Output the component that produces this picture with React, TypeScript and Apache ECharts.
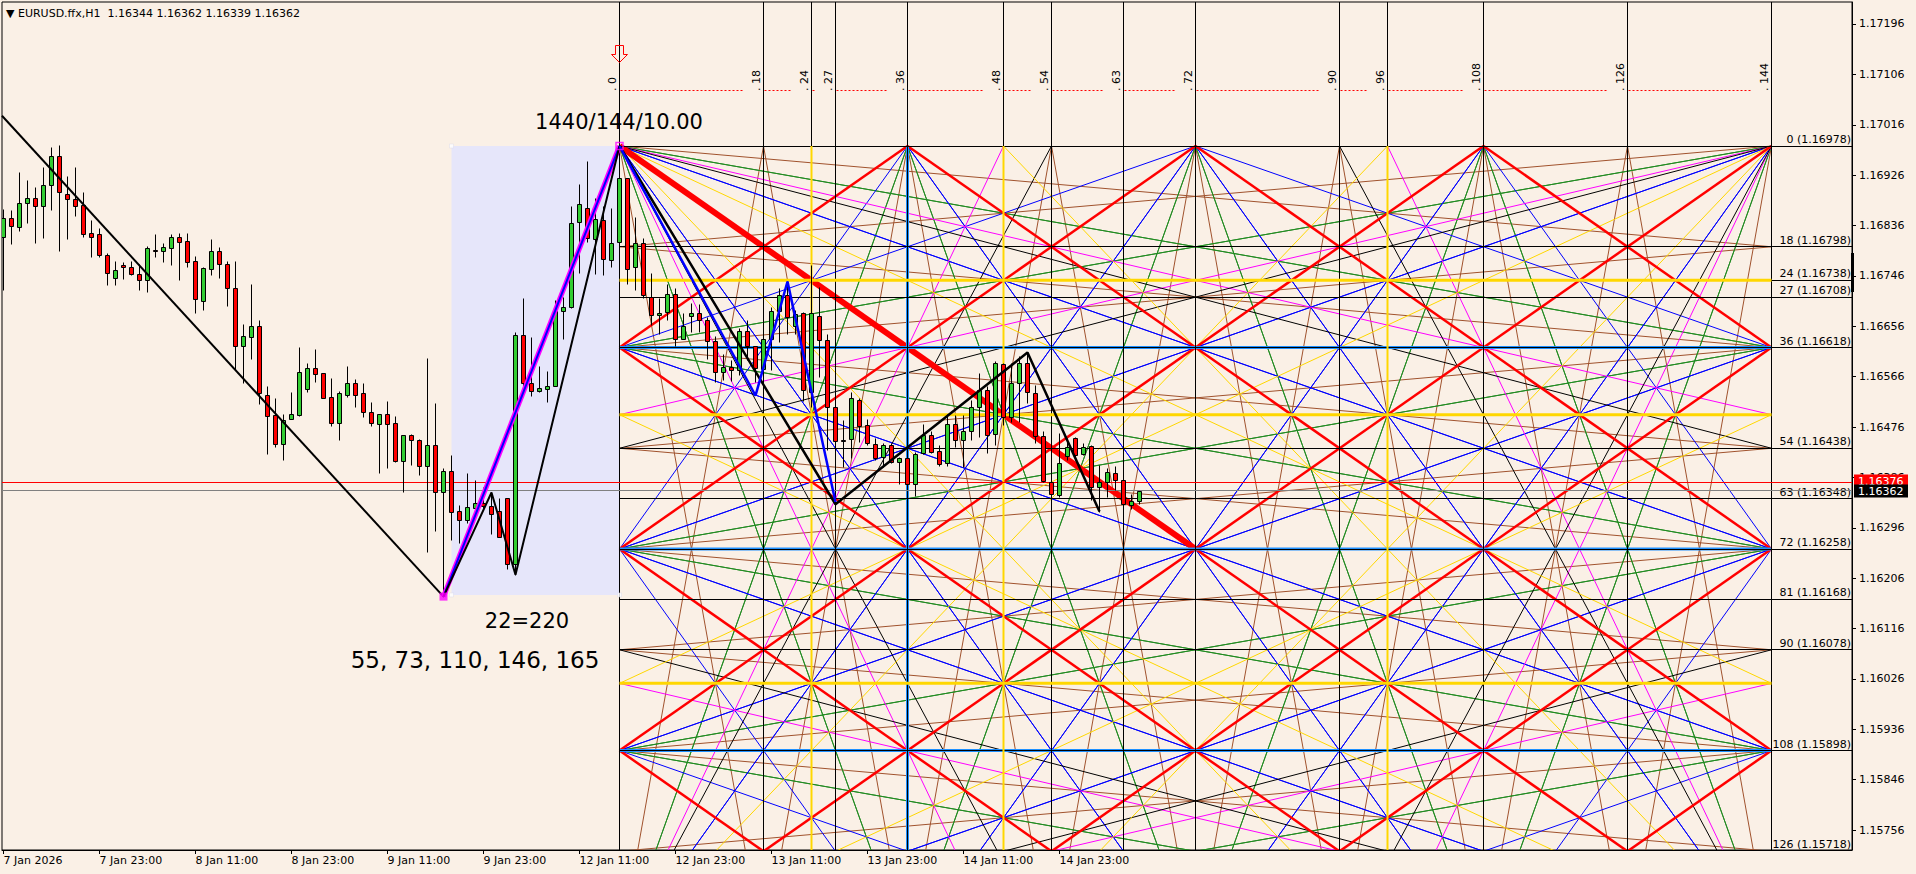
import React, { useEffect, useRef } from 'react';
import * as echarts from 'echarts';

// ---------- candle data (EURUSD H1), bar index 0 = 7 Jan 11:00 ----------
const opens = [1.16815,1.16849,1.16834,1.16876,1.16885,1.16870,1.16908,1.16960,1.16892,1.16884,1.16872,1.16822,1.16820,1.16784,1.16743,1.16765,1.16762,1.16749,1.16739,1.16792,1.16791,1.16795,1.16816,1.16808,1.16772,1.16702,1.16758,1.16790,1.16767,1.16724,1.16620,1.16637,1.16656,1.16534,1.16497,1.16445,1.16491,1.16497,1.16544,1.16581,1.16572,1.16530,1.16484,1.16534,1.16554,1.16536,1.16502,1.16481,1.16500,1.16484,1.16416,1.16462,1.16453,1.16407,1.16444,1.16359,1.16397,1.16326,1.16309,1.16332,1.16341,1.16334,1.16326,1.16349,1.16231,1.16640,1.16554,1.16540,1.16544,1.16549,1.16684,1.16690,1.16842,1.16867,1.16811,1.16846,1.16774,1.16806,1.16920,1.16761,1.16804,1.16709,1.16677,1.16681,1.16713,1.16634,1.16674,1.16679,1.16668,1.16629,1.16575,1.16583,1.16577,1.16647,1.16620,1.16579,1.16633,1.16683,1.16712,1.16656,1.16679,1.16538,1.16675,1.16631,1.16512,1.16453,1.16454,1.16525,1.16480,1.16446,1.16423,1.16444,1.16413,1.16421,1.16375,1.16429,1.16462,1.16433,1.16411,1.16482,1.16453,1.16468,1.16511,1.16543,1.16463,1.16588,1.16493,1.16554,1.16591,1.16537,1.16460,1.16378,1.16354,1.16425,1.16457,1.16428,1.16442,1.16368,1.16377,1.16393,1.16381,1.16337,1.16344];
const highs = [1.16865,1.16864,1.16932,1.16917,1.16904,1.16940,1.16976,1.16979,1.16924,1.16941,1.16895,1.16846,1.16831,1.16787,1.16773,1.16771,1.16773,1.16768,1.16799,1.16820,1.16804,1.16820,1.16822,1.16822,1.16782,1.16762,1.16812,1.16798,1.16772,1.16773,1.16660,1.16731,1.16668,1.16549,1.16527,1.16500,1.16539,1.16619,1.16590,1.16615,1.16572,1.16564,1.16540,1.16585,1.16562,1.16554,1.16520,1.16500,1.16522,1.16496,1.16462,1.16463,1.16454,1.16599,1.16519,1.16402,1.16426,1.16337,1.16393,1.16381,1.16369,1.16359,1.16349,1.16349,1.16645,1.16706,1.16637,1.16585,1.16576,1.16703,1.16709,1.16871,1.16910,1.16951,1.16885,1.16870,1.16867,1.16978,1.16920,1.16851,1.16813,1.16751,1.16707,1.16731,1.16724,1.16680,1.16697,1.16695,1.16673,1.16639,1.16606,1.16596,1.16652,1.16668,1.16621,1.16643,1.16691,1.16724,1.16736,1.16685,1.16682,1.16765,1.16727,1.16642,1.16518,1.16488,1.16539,1.16527,1.16491,1.16456,1.16447,1.16448,1.16423,1.16429,1.16432,1.16481,1.16468,1.16443,1.16499,1.16497,1.16497,1.16524,1.16572,1.16549,1.16594,1.16591,1.16591,1.16602,1.16609,1.16551,1.16468,1.16378,1.16466,1.16456,1.16458,1.16447,1.16444,1.16409,1.16402,1.16407,1.16384,1.16356,1.16362];
const lows = [1.16721,1.16803,1.16827,1.16841,1.16805,1.16814,1.16863,1.16791,1.16812,1.16853,1.16816,1.16779,1.16780,1.16729,1.16729,1.16741,1.16748,1.16721,1.16718,1.16780,1.16771,1.16766,1.16739,1.16762,1.16680,1.16685,1.16748,1.16742,1.16692,1.16578,1.16554,1.16598,1.16517,1.16428,1.16441,1.16417,1.16490,1.16496,1.16539,1.16556,1.16527,1.16477,1.16452,1.16530,1.16512,1.16493,1.16477,1.16394,1.16403,1.16414,1.16360,1.16408,1.16391,1.16253,1.16290,1.16173,1.16274,1.16268,1.16304,1.16328,1.16331,1.16285,1.16279,1.16223,1.16212,1.16548,1.16532,1.16539,1.16521,1.16549,1.16634,1.16688,1.16752,1.16807,1.16749,1.16748,1.16762,1.16801,1.16731,1.16720,1.16706,1.16658,1.16643,1.16668,1.16621,1.16633,1.16645,1.16645,1.16597,1.16556,1.16560,1.16559,1.16569,1.16596,1.16557,1.16569,1.16577,1.16628,1.16643,1.16643,1.16523,1.16512,1.16566,1.16435,1.16411,1.16405,1.16420,1.16450,1.16444,1.16417,1.16405,1.16411,1.16375,1.16372,1.16353,1.16428,1.16429,1.16407,1.16407,1.16441,1.16405,1.16453,1.16459,1.16430,1.16443,1.16479,1.16485,1.16485,1.16518,1.16447,1.16378,1.16351,1.16351,1.16417,1.16417,1.16426,1.16345,1.16325,1.16351,1.16363,1.16337,1.16329,1.16339];
const closes = [1.16849,1.16836,1.16876,1.16885,1.16870,1.16908,1.16960,1.16895,1.16884,1.16870,1.16821,1.16816,1.16783,1.16752,1.16756,1.16761,1.16750,1.16738,1.16795,1.16791,1.16797,1.16815,1.16807,1.16770,1.16705,1.16760,1.16791,1.16767,1.16724,1.16620,1.16638,1.16656,1.16537,1.16496,1.16446,1.16488,1.16499,1.16574,1.16581,1.16571,1.16528,1.16484,1.16536,1.16554,1.16534,1.16503,1.16483,1.16500,1.16481,1.16416,1.16462,1.16452,1.16407,1.16444,1.16359,1.16397,1.16325,1.16309,1.16333,1.16340,1.16335,1.16320,1.16280,1.16231,1.16640,1.16555,1.16540,1.16545,1.16550,1.16683,1.16690,1.16840,1.16874,1.16813,1.16847,1.16777,1.16804,1.16920,1.16759,1.16804,1.16711,1.16677,1.16680,1.16713,1.16634,1.16657,1.16679,1.16667,1.16629,1.16575,1.16584,1.16577,1.16648,1.16620,1.16581,1.16634,1.16683,1.16712,1.16673,1.16678,1.16543,1.16679,1.16631,1.16511,1.16451,1.16451,1.16527,1.16478,1.16447,1.16420,1.16444,1.16414,1.16421,1.16374,1.16428,1.16462,1.16432,1.16410,1.16482,1.16453,1.16468,1.16511,1.16542,1.16462,1.16590,1.16493,1.16554,1.16591,1.16538,1.16460,1.16380,1.16356,1.16412,1.16441,1.16426,1.16441,1.16368,1.16378,1.16395,1.16381,1.16338,1.16344,1.16362];

// ---------- axes ----------
const timeLabelBars = [0, 12, 24, 36, 48, 60, 72, 84, 96, 108, 120, 132];
const timeLabels = ['7 Jan 2026', '7 Jan 23:00', '8 Jan 11:00', '8 Jan 23:00', '9 Jan 11:00', '9 Jan 23:00', '12 Jan 11:00', '12 Jan 23:00', '13 Jan 11:00', '13 Jan 23:00', '14 Jan 11:00', '14 Jan 23:00'];
const priceTicks = [1.15756, 1.15846, 1.15936, 1.16026, 1.16116, 1.16206, 1.16296, 1.16386, 1.16476, 1.16566, 1.16656, 1.16746, 1.16836, 1.16926, 1.17016, 1.17106, 1.17196];
const X_MIN = -0.1875;
const X_MAX = 231.0625;
const Y_MIN = 1.157203;
const Y_MAX = 1.172353;

// ---------- current price lines ----------
const askPrice = 1.16376;
const bidPrice = 1.16362;

// ---------- Gann square (1440/144/10.00) ----------
const GANN_BAR = 77;          // bar of the swing high
const GANN_TOP = 1.16978;     // price of the swing high
const GANN_STEP = 0.0001;     // price per level
const GANN_SIZE = 144;
const gannTimeDivs = [0, 18, 24, 27, 36, 48, 54, 63, 72, 90, 96, 108, 126, 144];
const gannPriceDivs = [0, 18, 24, 27, 36, 54, 63, 72, 81, 90, 108, 126];
const goldDivs = [24, 48, 96];
const blueLevelDivs = [36, 72, 108];
const blueTimeDivs = [36];
const nodeDivs = [0, 36, 72, 108, 144];

// swing annotations [bar, price]
const swingLow = [55, 1.16173];
const trendLine = [[-0.19, 1.17032], [55, 1.16173]];
const zigzagUp = [[55, 1.16173], [61, 1.16359], [64, 1.16212], [77, 1.16978]];
const zigzagDown = [[77, 1.16978], [104, 1.16338], [128, 1.16609], [137, 1.16325]];
const blueZigzag = [[77, 1.16978], [94, 1.16532], [98, 1.16736], [104, 1.16342]];
const impulseLine = [[55, 1.16173], [77, 1.16978]];
const boxArea = [[56, 1.16978], [77, 1.16176]];

const BROWN = '#A0522D';
const GREENL = '#228B22';
const MAGENTA = '#FF00FF';
const BLUE = '#0000FF';
const YELLOW = '#FFD700';
const RED = '#FF0000';
const FONT = 'DejaVu Sans';

const gk = (u: number) => GANN_BAR + u;
const gp = (v: number) => GANN_TOP - GANN_STEP * v;

function ray(u0: number, v0: number, du: number, dv: number): number[] | null {
  const S = GANN_SIZE;
  let t = Infinity;
  if (du > 0) t = Math.min(t, (S - u0) / du);
  else if (du < 0) t = Math.min(t, u0 / -du);
  if (dv > 0) t = Math.min(t, (S - v0) / dv);
  else if (dv < 0) t = Math.min(t, v0 / -dv);
  if (!(t > 1e-9) || !isFinite(t)) return null;
  return [gk(u0), gp(v0), gk(u0 + du * t), gp(v0 + dv * t)];
}

function buildFans() {
  const groups: Record<string, number[][]> = {};
  const add = (c: string, s: number[] | null) => { if (s) (groups[c] = groups[c] || []).push(s); };
  const shallow = [{ r: 1 / 8, c: BROWN }, { r: 1 / 4, c: GREENL }, { r: 1 / 2, c: BLUE }];
  const steep = [{ r: 8, c: BROWN }, { r: 4, c: GREENL }, { r: 2, c: BLUE }];
  const corner = [{ r: 1 / 3, c: MAGENTA }, { r: 3, c: MAGENTA }, { r: 3 / 8, c: '#000000' }, { r: 8 / 3, c: '#000000' }, { r: 2 / 3, c: YELLOW }, { r: 3 / 2, c: YELLOW }];
  for (const v0 of nodeDivs) {
    for (const side of [0, GANN_SIZE]) {
      const du = side === 0 ? 1 : -1;
      for (const f of shallow) for (const sg of [1, -1]) add(f.c, ray(side, v0, du, sg * f.r));
    }
  }
  for (const u0 of nodeDivs) {
    for (const edge of [0, GANN_SIZE]) {
      const dv = edge === 0 ? 1 : -1;
      for (const f of steep) for (const sg of [1, -1]) add(f.c, ray(u0, edge, sg / f.r, dv));
    }
  }
  for (const cu of [0, GANN_SIZE]) for (const cv of [0, GANN_SIZE]) {
    const du = cu === 0 ? 1 : -1;
    const dv = cv === 0 ? 1 : -1;
    for (const f of corner) add(f.c, ray(cu, cv, du, dv * f.r));
  }
  return groups;
}

function buildLattice() {
  const segs: number[][] = [];
  const S = GANN_SIZE;
  for (let c = -108; c <= 108; c += 36) {
    const u1 = Math.max(0, -c), u2 = Math.min(S, S - c);
    if (u2 > u1) segs.push([gk(u1), gp(u1 + c), gk(u2), gp(u2 + c)]);
  }
  for (let c = 36; c <= 252; c += 36) {
    const u1 = Math.max(0, c - S), u2 = Math.min(S, c);
    if (u2 > u1) segs.push([gk(u1), gp(c - u1), gk(u2), gp(c - u2)]);
  }
  return segs;
}

function segSeries(id: string, segs: number[][], color: string, width: number, z: number, dash?: number[]) {
  return {
    type: 'custom', id, z, clip: true, silent: true,
    data: segs,
    renderItem: (params: any, api: any) => {
      const a = api.coord([api.value(0), api.value(1)]);
      const b = api.coord([api.value(2), api.value(3)]);
      let x1 = a[0], y1 = a[1], x2 = b[0], y2 = b[1];
      if (width === 1) {
        if (Math.abs(y1 - y2) < 0.01) { y1 = y2 = Math.round(y1 - 0.5) + 0.5; }
        if (Math.abs(x1 - x2) < 0.01) { x1 = x2 = Math.round(x1 - 0.5) + 0.5; }
      }
      return { type: 'line', shape: { x1, y1, x2, y2 }, style: { stroke: color, lineWidth: width, lineDash: dash || null, fill: null } };
    },
  };
}

function buildOption() {
  const candleData = opens.map((o, i) => [i, o, highs[i], lows[i], closes[i]]);
  const fans = buildFans();
  const fanSeries = Object.keys(fans).map((c, i) => segSeries('fan' + i, fans[c], c, 1, 3));

  const vLines = gannTimeDivs.map((u) => [gk(u), Y_MAX, gk(u), Y_MIN]);
  const hLines = gannPriceDivs.map((v) => [gk(0), gp(v), X_MAX, gp(v)]);
  const goldH = goldDivs.map((v) => [gk(0), gp(v), gk(GANN_SIZE), gp(v)]);
  const goldV = goldDivs.map((u) => [gk(u), gp(0), gk(u), Y_MIN]);
  const blueH = blueLevelDivs.map((v) => [gk(0), gp(v), gk(GANN_SIZE), gp(v)]);
  const blueV = blueTimeDivs.map((u) => [gk(u), gp(0), gk(u), Y_MIN]);
  const dotted = gannTimeDivs.slice(0, -1).map((u, i) => [gk(u), gk(gannTimeDivs[i + 1])]);

  const txt = (extra: any) => ({ fill: '#000', fontSize: 11, fontFamily: FONT, ...extra });

  return {
    animation: false,
    backgroundColor: '#FAF0E6',
    textStyle: { fontFamily: FONT },
    grid: { left: 2, top: 2, width: 1850, height: 848, show: true, borderColor: '#000', borderWidth: 1, backgroundColor: 'transparent' },
    xAxis: {
      type: 'value', min: X_MIN, max: X_MAX,
      axisLine: { show: true, onZero: false, lineStyle: { color: '#000', width: 1 } },
      axisTick: { show: true, customValues: timeLabelBars, length: 4, lineStyle: { color: '#000' } },
      axisLabel: {
        show: true, customValues: timeLabelBars, align: 'left', margin: 5,
        fontFamily: FONT, fontSize: 11, color: '#000',
        formatter: (v: number) => { const i = timeLabelBars.indexOf(Math.round(v)); return i >= 0 ? timeLabels[i] : ''; },
      },
      splitLine: { show: false },
    },
    yAxis: {
      type: 'value', position: 'right', min: Y_MIN, max: Y_MAX, scale: true,
      axisLine: { show: true, onZero: false, lineStyle: { color: '#000', width: 1 } },
      axisTick: { show: true, customValues: priceTicks, length: 4, lineStyle: { color: '#000' } },
      axisLabel: { show: true, customValues: priceTicks, margin: 7, fontFamily: FONT, fontSize: 11, color: '#000', formatter: (v: number) => v.toFixed(5) },
      splitLine: { show: false },
    },
    series: [
      {
        type: 'custom', id: 'box', z: 1, clip: true, silent: true,
        data: [[boxArea[0][0], boxArea[0][1], boxArea[1][0], boxArea[1][1]]],
        renderItem: (p: any, api: any) => {
          const a = api.coord([api.value(0), api.value(1)]);
          const b = api.coord([api.value(2), api.value(3)]);
          return { type: 'rect', shape: { x: a[0], y: a[1], width: b[0] - a[0], height: b[1] - a[1] }, style: { fill: '#E6E6FA' } };
        },
      },
      ...fanSeries,
      segSeries('lattice', buildLattice(), RED, 2.5, 4),
      segSeries('gannDiag', [[gk(0), gp(0), gk(72), gp(72)]], RED, 6, 4),
      segSeries('blueH', blueH, '#1E90FF', 3, 5),
      segSeries('blueV', blueV, '#1E90FF', 3, 5),
      segSeries('vlines', vLines, '#000', 1, 6),
      segSeries('hlines', hLines, '#000', 1, 6),
      segSeries('goldH', goldH, YELLOW, 3, 6),
      segSeries('goldV', goldV, YELLOW, 2, 6),
      {
        type: 'custom', id: 'dots', z: 6, silent: true,
        data: dotted,
        renderItem: (p: any, api: any) => {
          const a = api.coord([api.value(0), Y_MAX]);
          const b = api.coord([api.value(1), Y_MAX]);
          return { type: 'line', shape: { x1: a[0] + 1, y1: 90.5, x2: b[0] - 20, y2: 90.5 }, style: { stroke: RED, lineWidth: 1, lineDash: [2, 2] } };
        },
      },
      {
        type: 'custom', id: 'timeDivLabels', z: 6, silent: true,
        data: gannTimeDivs.map((u) => [gk(u), u]),
        renderItem: (p: any, api: any) => {
          const a = api.coord([api.value(0), Y_MAX]);
          return { type: 'text', x: a[0] - 2, y: 91, rotation: Math.PI / 2, style: txt({ text: '. ' + api.value(1), align: 'left', verticalAlign: 'bottom', textAlign: 'left', textVerticalAlign: 'bottom' }) };
        },
      },
      {
        type: 'custom', id: 'levelLabels', z: 6, silent: true,
        data: gannPriceDivs.map((v) => [gp(v), v]),
        renderItem: (p: any, api: any) => {
          const a = api.coord([X_MAX, api.value(0)]);
          const v = api.value(1);
          return { type: 'text', x: a[0] - 1, y: Math.round(a[1]) - 1, style: txt({ text: v + ' (' + gp(v).toFixed(5) + ')', align: 'right', verticalAlign: 'bottom', textAlign: 'right', textVerticalAlign: 'bottom' }) };
        },
      },
      {
        type: 'custom', id: 'priceLines', z: 7, silent: true,
        data: [[askPrice, 0], [bidPrice, 1]],
        renderItem: (p: any, api: any) => {
          const pr = api.value(0);
          const isAsk = api.value(1) === 0;
          const l = api.coord([X_MIN, pr]);
          const r = api.coord([X_MAX, pr]);
          const y = Math.round(l[1] - 0.5) + 0.5;
          const cy = Math.round(l[1]) + (isAsk ? -2 : 0);
          return {
            type: 'group', children: [
              { type: 'line', shape: { x1: l[0], y1: y, x2: r[0], y2: y }, style: { stroke: isAsk ? RED : '#808080', lineWidth: 1 } },
              { type: 'rect', shape: { x: r[0] + 2, y: cy - 6.5, width: 54, height: 13 }, style: { fill: isAsk ? RED : '#000' } },
              { type: 'text', x: r[0] + 6, y: cy, style: txt({ text: pr.toFixed(5), fill: '#fff', align: 'left', verticalAlign: 'middle', textAlign: 'left', textVerticalAlign: 'middle' }) },
            ],
          };
        },
      },
      {
        type: 'custom', id: 'candles', z: 8, clip: true, silent: true,
        data: candleData,
        renderItem: (p: any, api: any) => {
          const k = api.value(0), o = api.value(1), h = api.value(2), l = api.value(3), c = api.value(4);
          const po = api.coord([k, o]), pc = api.coord([k, c]), ph = api.coord([k, h]), pl = api.coord([k, l]);
          const x = Math.round(po[0] - 0.5) + 0.5;
          const top = Math.round(Math.min(po[1], pc[1])) + 0.5;
          const bot = Math.round(Math.max(po[1], pc[1])) + 0.5;
          return {
            type: 'group', children: [
              { type: 'line', shape: { x1: x, y1: Math.round(ph[1]) + 0.5, x2: x, y2: Math.round(pl[1]) + 0.5 }, style: { stroke: '#000', lineWidth: 1 } },
              { type: 'rect', shape: { x: x - 2, y: top, width: 4, height: Math.max(bot - top, 0) }, style: { fill: c >= o ? '#32CD32' : RED, stroke: '#000', lineWidth: 1 } },
            ],
          };
        },
      },
      { type: 'line', id: 'trend', z: 9, data: trendLine, symbol: 'none', silent: true, lineStyle: { color: '#000', width: 2 } },
      { type: 'line', id: 'impulseM', z: 9, data: impulseLine, symbol: 'none', silent: true, lineStyle: { color: MAGENTA, width: 5 } },
      { type: 'line', id: 'impulseB', z: 10, data: impulseLine, symbol: 'none', silent: true, lineStyle: { color: BLUE, width: 2 } },
      { type: 'line', id: 'zzUp', z: 10, data: zigzagUp, symbol: 'none', silent: true, lineStyle: { color: '#000', width: 2 } },
      { type: 'line', id: 'zzDown', z: 10, data: zigzagDown, symbol: 'none', silent: true, lineStyle: { color: '#000', width: 2.5 } },
      { type: 'line', id: 'zzBlue', z: 10, data: blueZigzag, symbol: 'none', silent: true, lineStyle: { color: BLUE, width: 2.5 } },
      { type: 'scatter', id: 'lowMark', z: 11, data: [swingLow], symbol: 'rect', symbolSize: 8, silent: true, itemStyle: { color: MAGENTA } },
      { type: 'scatter', id: 'highMark', z: 11, data: [[GANN_BAR, GANN_TOP]], symbol: 'rect', symbolSize: 7, silent: true, itemStyle: { color: 'rgba(0,0,0,0)', borderColor: MAGENTA, borderWidth: 1.5 } },
      {
        type: 'scatter', id: 'handles', z: 11, silent: true, symbol: 'rect', symbolSize: 4,
        data: [[boxArea[0][0], boxArea[0][1]], [boxArea[0][0], boxArea[1][1]], [boxArea[1][0], boxArea[1][1]]],
        itemStyle: { color: '#FFFFFF', borderColor: '#D8D8E8', borderWidth: 0.5 },
      },
    ],
    graphic: [
      { type: 'text', x: 6, y: 13, z: 100, style: txt({ text: '\u25BC EURUSD.ffx,H1  1.16344 1.16362 1.16339 1.16362', align: 'left', verticalAlign: 'middle', textAlign: 'left', textVerticalAlign: 'middle' }) },
      { type: 'text', x: 619, y: 122, z: 100, style: txt({ text: '1440/144/10.00', fontSize: 21, align: 'center', verticalAlign: 'middle', textAlign: 'center', textVerticalAlign: 'middle' }) },
      { type: 'text', x: 527, y: 621, z: 100, style: txt({ text: '22=220', fontSize: 21, align: 'center', verticalAlign: 'middle', textAlign: 'center', textVerticalAlign: 'middle' }) },
      { type: 'text', x: 475, y: 660, z: 100, style: txt({ text: '55, 73, 110, 146, 165', fontSize: 23, align: 'center', verticalAlign: 'middle', textAlign: 'center', textVerticalAlign: 'middle' }) },
      { type: 'polygon', z: 100, shape: { points: [[615.5, 45.5], [623.5, 45.5], [623.5, 54.5], [627.5, 54.5], [619.5, 62.5], [611.5, 54.5], [615.5, 54.5]] }, style: { fill: 'none', stroke: RED, lineWidth: 1 } },
      { type: 'rect', z: 100, shape: { x: 1851, y: 253, width: 3, height: 39 }, style: { fill: '#000' } },
    ],
  };
}

export default function App() {
  const ref = useRef<HTMLDivElement>(null);
  useEffect(() => {
    const el = ref.current;
    if (!el) return;
    const chart = echarts.init(el, null, { renderer: 'svg' });
    chart.setOption(buildOption() as any);
    return () => chart.dispose();
  }, []);
  return <div ref={ref} style={{ position: 'fixed', left: 0, top: 0, width: 1916, height: 874, background: '#FAF0E6' }} />;
}
